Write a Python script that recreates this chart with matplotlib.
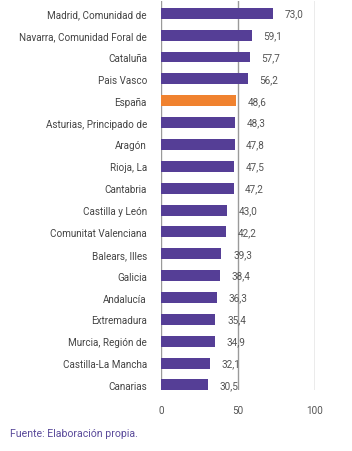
import matplotlib.pyplot as plt

regiones = ["Madrid, Comunidad de", "Navarra, Comunidad Foral de", "Cataluña", "Pais Vasco",
            "España", "Asturias, Principado de", "Aragón", "Rioja, La", "Cantabria",
            "Castilla y León", "Comunitat Valenciana", "Balears, Illes", "Galicia",
            "Andalucía", "Extremadura", "Murcia, Región de", "Castilla-La Mancha", "Canarias"]
valores = [73.0, 59.1, 57.7, 56.2, 48.6, 48.3, 47.8, 47.5, 47.2,
           43.0, 42.2, 39.3, 38.4, 36.3, 35.4, 34.9, 32.1, 30.5]
xticks = [0, 50, 100]

purple = "#553e96"
orange = "#f0822f"

plt.rcParams['font.family'] = ['Roboto', 'DejaVu Sans']

fig = plt.figure(figsize=(3.52, 4.52), dpi=100)
ax = fig.add_axes([0.457, 0.135, 0.438, 0.86])

colors = [orange if r == "España" else purple for r in regiones]
pos = list(range(len(regiones)))
ax.barh(pos, valores, height=0.5, color=colors, zorder=3)

for x in xticks:
    ax.axvline(x, color="#9a9a9a", lw=1.0, zorder=1)

for p, v in zip(pos, valores):
    ax.text(v + 7.5, p, f"{v:.1f}".replace(".", ","), va="center", ha="left",
            fontsize=7.2, color="#555555", zorder=4)

ax.set_xlim(0, 100)
ax.set_ylim(len(regiones) - 1 + 0.23, -0.55)
ax.set_yticks(pos)
ax.set_yticklabels(regiones, fontsize=7.1, color="#444444")
ax.set_xticks(xticks)
ax.set_xticklabels([str(x) for x in xticks], fontsize=7.2, color="#555555")
ax.tick_params(axis="both", length=0)
ax.tick_params(axis="x", pad=11)
ax.tick_params(axis="y", pad=10)
for s in ax.spines.values():
    s.set_visible(False)

fig.text(0.028, 0.033, "Fuente: Elaboración propia.", fontsize=7.6, color="#5a4a9a")

fig.savefig("out.png", dpi=100)
